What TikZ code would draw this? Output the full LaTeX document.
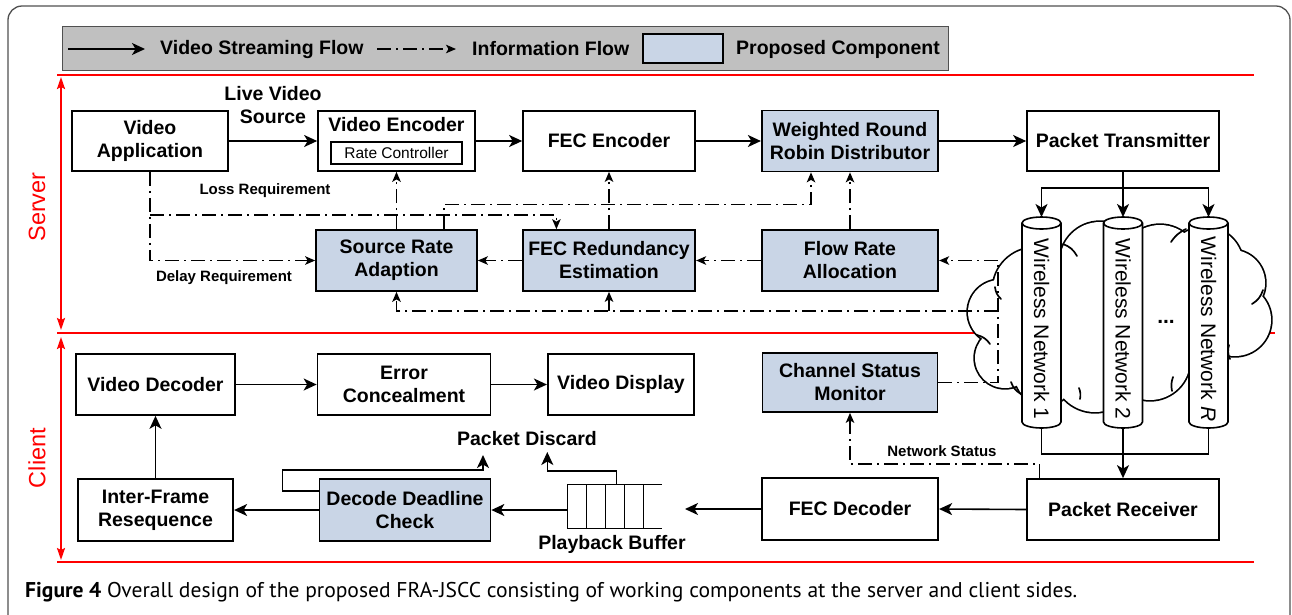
\documentclass[tikz,border=0pt]{standalone}
\usepackage{fontspec}
\usepackage{graphicx}
\setmainfont{Liberation Sans}
\newfontfamily\capfont{PT Sans}
\usetikzlibrary{arrows.meta,calc}
\definecolor{propblue}{HTML}{C9D5E6}
\definecolor{leggray}{HTML}{C0C0C0}
\definecolor{framegray}{HTML}{505050}
\newcommand\bigtxt{\fontsize{19.5}{23}\selectfont\bfseries}
\newcommand\smalltxt{\fontsize{15}{18}\selectfont\bfseries}
\newcommand\rctxt{\fontsize{15.5}{18}\selectfont}
\newcommand\wltxt{\fontsize{21}{24}\selectfont}
\newcommand\sidetxt{\fontsize{23.5}{28}\selectfont}
\begin{document}
\begin{tikzpicture}[x=1pt,y=-1pt,
  box/.style={draw, line width=1.7pt, align=center, font=\bigtxt, inner sep=0pt},
  prop/.style={box, fill=propblue},
  flowarrow/.style={line width=1.6pt, -{Stealth[length=13pt,width=12pt,inset=3.5pt]}},
  plainline/.style={line width=1.6pt},
  infoline/.style={line width=1.5pt, dash pattern=on 14pt off 5pt on 2pt off 5pt},
  infoarrow/.style={infoline, -{Stealth[length=10pt,width=8.5pt,inset=2.5pt]}},
  redline/.style={red, line width=2pt},
  redarrow/.style={red, line width=2pt, {Stealth[length=12pt,width=8pt,inset=2pt]}-{Stealth[length=12pt,width=8pt,inset=2pt]}},
  lbl/.style={font=\smalltxt, inner sep=0pt},
  txt/.style={font=\bigtxt, inner sep=0pt, align=center},
  tail/.style={line width=1.7pt, line cap=round},
]
\useasboundingbox (0,0) rectangle (1292,614);
\fill[white] (0,0) rectangle (1292,614);
% frame
\draw[framegray, line width=1.3pt, rounded corners=14pt] (8,630) -- (8,6) -- (1290,6) -- (1290,630);

% legend
\node[draw=framegray, fill=leggray, line width=1.2pt, minimum width=886pt, minimum height=44pt, inner sep=0pt, anchor=north west] (legend) at (62,26) {};
\coordinate (la1) at (68,49);
\coordinate (la2) at (145,49);
\draw[flowarrow] (la1) -- (la2);
\node[txt, anchor=west] (lt1) at (160,49) {Video Streaming Flow};
\coordinate (lb1) at (377,49);
\coordinate (lb2) at (456,49);
\draw[infoarrow] (lb1) -- (lb2);
\node[txt, anchor=west] (lt2) at (472,49) {Information Flow};
\node[prop, minimum width=80pt, minimum height=29pt] (lbox) at (683,48.5) {};
\node[txt, anchor=west] (lt3) at (736,49) {Proposed Component};

% red separators
\draw[redline] (57,75) -- (1254,75);
\draw[redline] (57,333) -- (1275,333);
\draw[redline] (57,562) -- (1254,562);
\coordinate (sv1) at (61,77);
\coordinate (sv2) at (61,330);
\coordinate (cl1) at (61,337);
\coordinate (cl2) at (61,560);
\draw[redarrow] (sv1) -- (sv2);
\draw[redarrow] (cl1) -- (cl2);
\node[red, font=\sidetxt, rotate=90, inner sep=0pt] (server) at (37,207) {Server};
\node[red, font=\sidetxt, rotate=90, inner sep=0pt] (client) at (37,458) {Client};

% cloud
\foreach \cx/\cy/\r in {1035/290/42, 1000/312/32, 1005/358/30, 1045/375/30, 1095/370/42, 1150/360/40, 1235/320/36, 1232/283/33, 1205/265/38, 1100/262/40, 1160/265/40, 1120/315/75}
  \draw[line width=3.4pt] (\cx,\cy) circle (\r pt);
\foreach \cx/\cy/\r in {1035/290/42, 1000/312/32, 1005/358/30, 1045/375/30, 1095/370/42, 1150/360/40, 1235/320/36, 1232/283/33, 1205/265/38, 1100/262/40, 1160/265/40, 1120/315/75}
  \fill[white] (\cx,\cy) circle (\r pt);
% inner strokes of the cloud puffs
\draw[tail] (1063,244) to[bend left=20] (1077,256);
\draw[tail] (1171,242) to[bend left=15] (1186,229);
\draw[tail] (1252,304) to[bend right=20] (1263,290);
\draw[tail] (1230,359) to[bend left=20] (1229,345);
\draw[tail] (1172,391) to[bend left=15] (1173,377);
\draw[tail] (1080,399) to[bend right=15] (1079,388);
\draw[tail] (1021,394) to[bend left=20] (1011,382);
\draw[tail] (995,287) to[bend right=20] (1001,299);
\draw[tail] (977,335) to[bend left=20] (990,344);

% cylinders
\foreach \cx/\n/\lab in {1041.5/1/1, 1123/2/2, 1208.5/R/\textit{R}} {
  \draw[line width=1.6pt, fill=white] (\cx-19.5,223) -- (\cx-19.5,422)
     arc[start angle=180, end angle=360, x radius=19.5pt, y radius=6pt]
     -- (\cx+19.5,223)
     arc[start angle=0, end angle=180, x radius=19.5pt, y radius=6pt] -- cycle;
  \draw[line width=1.6pt] (\cx-19.5,223) arc[start angle=180, end angle=360, x radius=19.5pt, y radius=6pt];
  \node[font=\wltxt, rotate=-90, inner sep=0pt] (wn\n) at (\cx,329) {Wireless Network \lab};
  \coordinate (top\n) at (\cx,217);
  \coordinate (bot\n) at (\cx,428);
}
\node[font=\wltxt\bfseries, inner sep=0pt] (dots) at (1166,322) {...};

% server boxes
\node[box, minimum width=156pt, minimum height=60pt] (va) at (150,141) {Video\\Application};
\node[txt] (lvs) at (273,105.5) {Live Video\\Source};
\node[box, minimum width=157pt, minimum height=60pt] (ve) at (396.5,141) {};
\node[txt] (vet) at (396.5,125) {Video Encoder};
\node[draw, line width=1.5pt, minimum width=131pt, minimum height=22pt, inner sep=0pt, font=\rctxt] (rc) at (396.5,153) {Rate Controller};
\node[box, minimum width=172pt, minimum height=60pt] (fe) at (609,141) {FEC Encoder};
\node[prop, minimum width=176.5pt, minimum height=61pt] (wrr) at (850,141) {Weighted Round\\Robin Distributor};
\node[box, minimum width=192pt, minimum height=60pt] (pt) at (1123,141) {Packet Transmitter};
\node[prop, minimum width=161pt, minimum height=61pt] (sra) at (396.5,260.5) {Source Rate\\Adaption};
\node[prop, minimum width=172.5pt, minimum height=61pt] (fre) at (609,260.5) {FEC Redundancy\\Estimation};
\node[prop, minimum width=176.5pt, minimum height=61pt] (fra) at (850,260.5) {Flow Rate\\Allocation};

% client boxes
\node[box, minimum width=159pt, minimum height=61pt] (vd) at (155.5,384.5) {Video Decoder};
\node[box, minimum width=173pt, minimum height=61pt] (ec) at (404,384.5) {Error\\Concealment};
\node[box, minimum width=146.5pt, minimum height=61pt] (vdisp) at (621,384.5) {Video Display};
\node[prop, minimum width=175pt, minimum height=59pt] (csm) at (850,382.5) {Channel Status\\Monitor};
\node[box, minimum width=155.5pt, minimum height=62pt] (ifr) at (155.5,510) {Inter-Frame\\Resequence};
\node[prop, minimum width=171pt, minimum height=62pt] (ddc) at (405,510) {Decode Deadline\\Check};
\node[box, minimum width=176.5pt, minimum height=62pt] (fd) at (850,509) {FEC Decoder};
\node[box, minimum width=192pt, minimum height=61pt] (pr) at (1123,509.5) {Packet Receiver};

% playback buffer
\node[minimum width=94pt, minimum height=43.5pt, inner sep=0pt] (buf) at (614.5,506.5) {};
\draw[line width=1.4pt] (buf.north west) -- (buf.north east) (buf.south west) -- (buf.south east);
\foreach \i in {0,...,4}
  \draw[line width=1.4pt] ($(buf.north west)+(\i*19,0)$) -- ($(buf.south west)+(\i*19,0)$);
\node[txt] (pbt) at (612,544) {Playback Buffer};
\node[txt] (pdt) at (527,439) {Packet Discard};

% labels
\node[lbl] (loss) at (265,191) {Loss Requirement};
\node[lbl] (delay) at (224,278) {Delay Requirement};
\node[lbl] (nst) at (942,451) {Network Status};

% solid flows (server)
\draw[flowarrow] (va.east) -- (ve.west);
\draw[flowarrow] (ve.east) -- (fe.west);
\draw[flowarrow] (fe.east) -- (wrr.west);
\draw[flowarrow] (wrr.east) -- (pt.west);
\coordinate (split) at (1123,188);
\draw[flowarrow] (pt.south) -- (top2);
\draw[flowarrow] (split) -| (top1);
\draw[flowarrow] (split) -| (topR);
\coordinate (merge) at (1123,454);
\draw[plainline] (bot1) |- (merge) -| (botR);
\draw[flowarrow] (bot2) -- (pr.north);

% solid flows (client)
\coordinate (bufin) at (685,509);
\draw[flowarrow] (pr.west) -- (fd.east);
\draw[flowarrow] (fd.west) -- (bufin);
\draw[flowarrow] (buf.west |- ddc.east) -- (ddc.east);
\draw[flowarrow] (ddc.west) -- (ifr.east);
\draw[flowarrow] (ifr.north) -- (vd.south);
\draw[flowarrow] (vd.east) -- (ec.west);
\draw[flowarrow] (ec.east) -- (vdisp.west);
\coordinate (disc1) at (483,455);
\coordinate (disc2) at (547.3,452);
\draw[flowarrow] ($(ddc.north west)+(0,13)$) -- ++(-36,0) |- ($(disc1)+(0,15)$) -- (disc1);
\draw[flowarrow] ($(buf.north)+(2,0)$) |- ($(disc2)+(0,18.7)$) -- (disc2);

% information flows
\coordinate (lj) at (150,215);
\coordinate (cj) at (998,260.5);
\coordinate (cb) at (998,311);
\draw[infoarrow] (va.south) |- (sra.west);
\draw[infoarrow] (lj) -| ($(fre.north west)+(34.5,0)$);
\draw[infoarrow] (sra.north) -- (ve.south);
\draw[infoarrow] ($(sra.north)+(47.5,0)$) |- ($(wrr.south)+(-39,32)$) -- ($(wrr.south)+(-39,0)$);
\draw[infoarrow] (fre.north) -- (fe.south);
\draw[infoarrow] (fra.north) -- (wrr.south);
\draw[infoarrow] (fre.west) -- (sra.east);
\draw[infoarrow] (fra.west) -- (fre.east);
\draw[infoarrow] (csm.east) -| (cj) -- (fra.east);
\draw[infoarrow] (cb) -| (sra.south);
\draw[infoarrow] (fre.south |- cb) -- (fre.south);
\draw[infoarrow] ($(pr.north west)+(13.3,0)$) |- ($(csm.south)+(0,51)$) -- (csm.south);

% caption
\node[anchor=base west, inner sep=0pt] (cap) at (25,597.3) {\resizebox{1052pt}{15.2pt}{\capfont\textbf{Figure 4} Overall design of the proposed FRA-JSCC consisting of working components at the server and client sides.}};
\end{tikzpicture}
\end{document}
